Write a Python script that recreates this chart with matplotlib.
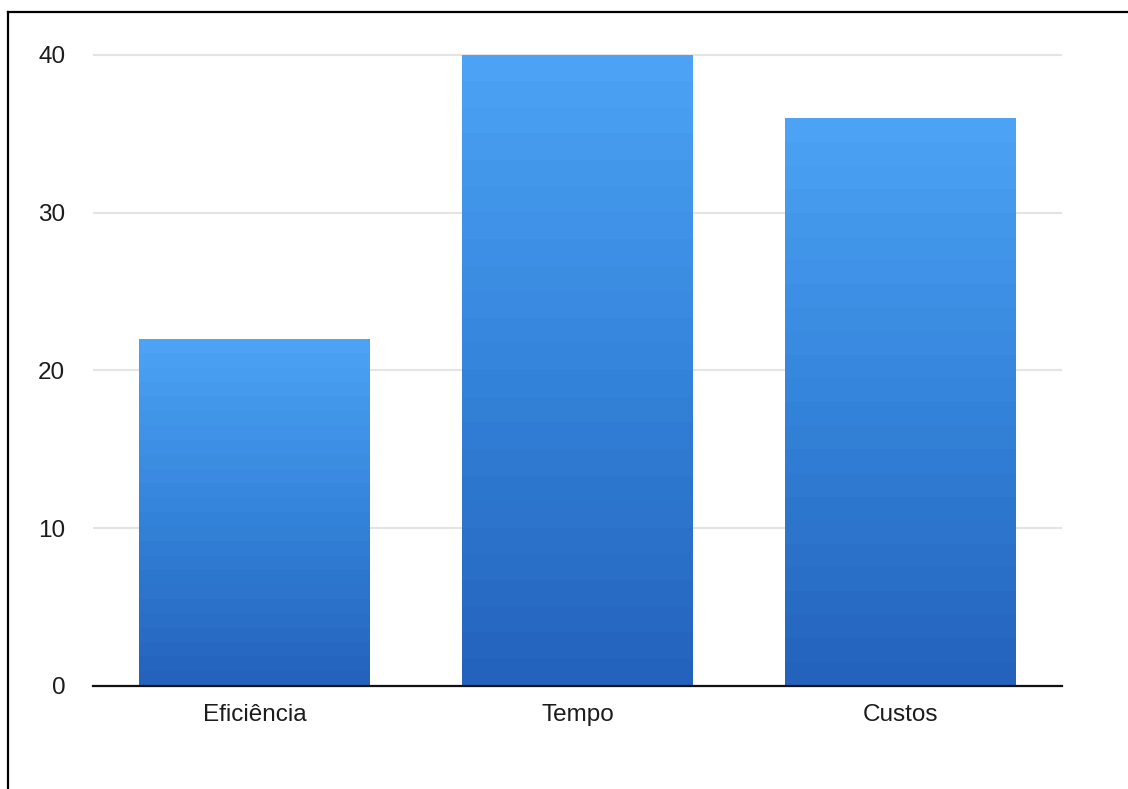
import matplotlib
matplotlib.use("Agg")
import matplotlib.pyplot as plt
import numpy as np
from matplotlib.colors import LinearSegmentedColormap
from matplotlib.lines import Line2D

# Valeurs du graphique
categories = ["Eficiência", "Tempo", "Custos"]
values = [22, 40, 36]
y_ticks = [0, 10, 20, 30, 40]

plt.rcParams['font.family'] = ['Liberation Sans', 'DejaVu Sans']

W, H = 1128, 789
fig = plt.figure(figsize=(W / 100, H / 100), dpi=100)
fig.patch.set_facecolor("white")

y_top = 40.5
px_per_unit = (686 - 55) / 40
top_px = 686 - y_top * px_per_unit
ax = fig.add_axes([93 / W, 1 - 686 / H, (1062 - 93) / W, (686 - top_px) / H])

# Dégradé bleu, clair en haut, foncé en bas (par paliers)
cmap = LinearSegmentedColormap.from_list("bleu", ["#2463bd", "#3585dc", "#4ea5f7"])
n_steps = 24
grad = np.floor(np.linspace(0, 1, 400) * n_steps) / n_steps
grad = grad.reshape(-1, 1)

bar_w = 0.715
x = np.arange(len(categories))
bars = ax.bar(x, values, width=bar_w, color="none", edgecolor="none", zorder=3)
for bar in bars:
    bx, by = bar.get_x(), bar.get_y()
    bw, bh = bar.get_width(), bar.get_height()
    im = ax.imshow(grad, cmap=cmap, vmin=0, vmax=1, origin="lower",
                   extent=[bx, bx + bw, by, by + bh], aspect="auto", zorder=3,
                   interpolation="nearest")
    im.set_clip_path(bar)

ax.set_xlim(-0.5, len(categories) - 0.5)
ax.set_ylim(0, y_top)
ax.set_xticks(x)
ax.set_xticklabels(categories)
ax.set_yticks(y_ticks)
ax.tick_params(axis="both", length=0, labelsize=17.5, colors="#1c1c1c")
ax.tick_params(axis="y", pad=20)
ax.tick_params(axis="x", pad=13)

for t in y_ticks[1:]:
    ax.axhline(t, color="#e4e4e4", lw=1.5, zorder=1)

for side in ["top", "right", "left"]:
    ax.spines[side].set_visible(False)
ax.spines["bottom"].set_color("#111111")
ax.spines["bottom"].set_linewidth(1.6)
ax.spines["bottom"].set_zorder(5)

# Cadre noir (côtés gauche et haut)
fig.add_artist(Line2D([7.5 / W, 7.5 / W], [0, 1 - 11.5 / H], color="black", lw=1.6))
fig.add_artist(Line2D([7.5 / W, 1], [1 - 11.5 / H, 1 - 11.5 / H], color="black", lw=1.6))

fig.savefig("out.png", dpi=100)
